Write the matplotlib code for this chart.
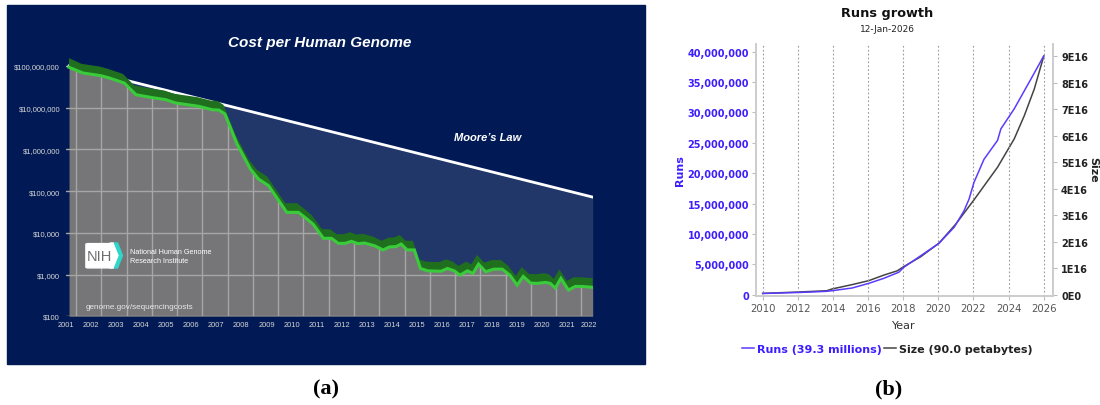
"""Sequencing cost per genome next to archive growth (runs and stored size)."""

import matplotlib.pyplot as plt
import numpy as np
from matplotlib.patches import FancyBboxPatch, Polygon, Rectangle

W, H = 1100, 406

# cost per human genome (USD), NHGRI series
genome_years = [
    2001.12, 2001.67, 2002.39, 2002.72, 2003.31, 2003.77, 2004.36, 2004.95,
    2005.34, 2006.26, 2006.79, 2007.05, 2007.29, 2007.77, 2008.30, 2008.62,
    2009.02, 2009.74, 2010.20, 2010.46, 2010.79, 2011.19, 2011.51, 2011.78,
    2012.04, 2012.30, 2012.56, 2012.82, 2013.22, 2013.55, 2013.81, 2014.07,
    2014.27, 2014.50, 2014.79, 2015.03, 2015.32, 2015.84, 2016.10, 2016.37,
    2016.60, 2016.89, 2017.11, 2017.33, 2017.61, 2017.94, 2018.27, 2018.57,
    2018.86, 2019.10, 2019.39, 2019.65, 2019.98, 2020.17, 2020.37, 2020.59,
    2020.89, 2021.16, 2021.42, 2021.85,
]
genome_cost = [
    9.3e7, 6.8e7, 5.85e7, 5.15e7, 3.9e7, 2.05e7, 1.77e7, 1.56e7,
    1.3e7, 1.08e7, 8.95e6, 8.8e6, 7.1e6, 1.35e6, 3.4e5, 1.95e5,
    1.35e5, 3.1e4, 3.1e4, 2.35e4, 1.6e4, 7.4e3, 7.4e3, 5.6e3,
    5.6e3, 6.25e3, 5.5e3, 5.7e3, 4.9e3, 3.9e3, 4.6e3, 4.7e3,
    5.4e3, 3.9e3, 3.9e3, 1.4e3, 1.23e3, 1.2e3, 1.4e3, 1.23e3,
    970, 1.23e3, 1.07e3, 1.78e3, 1.17e3, 1.35e3, 1.35e3, 970,
    560, 905, 625, 615, 650, 615, 475, 810,
    425, 520, 520, 495,
]
# Moore's law reference line (straight on the log axis)
moore_years = [2001.12, 2021.85]
moore_cost = [1.0e8, 7.2e4]

cost_ticks = [1e2, 1e3, 1e4, 1e5, 1e6, 1e7, 1e8]
cost_labels = ["$100", "$1,000", "$10,000", "$100,000", "$1,000,000",
               "$10,000,000", "$100,000,000"]
genome_tick_labels = [str(y) for y in range(2001, 2023)]

# archive growth: runs (millions) and stored size (units of 1E16 bytes)
runs_years = [2010.0, 2011.0, 2012.0, 2013.0, 2013.66, 2014.0, 2015.09, 2016.04,
              2016.9, 2017.75, 2018.03, 2018.99, 2020.03, 2020.9, 2021.46,
              2021.75, 2022.03, 2022.6, 2023.37, 2023.56, 2024.32, 2025.27, 2026.0]
runs_millions = [0.2, 0.28, 0.36, 0.47, 0.56, 0.68, 1.1, 1.87,
                 2.7, 3.7, 4.5, 6.4, 8.45, 11.1, 13.8,
                 15.75, 18.5, 22.3, 25.4, 27.3, 30.6, 35.5, 39.3]
size_years = [2010.0, 2012.0, 2013.66, 2013.94, 2015.09, 2016.04, 2016.9, 2017.66,
              2018.03, 2018.99, 2020.03, 2021.0, 2022.03, 2023.37, 2024.32,
              2024.89, 2025.46, 2026.0]
size_e16 = [0.05, 0.1, 0.15, 0.215, 0.38, 0.53, 0.74, 0.9,
            1.06, 1.43, 1.94, 2.67, 3.58, 4.81, 5.88,
            6.75, 7.76, 9.0]

NAVY = "#011a55"
MID = "#213669"
GRAY = "#767678"
GRID = "#a6a6a6"
DARK_GREEN = "#1f6f1f"
BRIGHT_GREEN = "#3acb3a"
BLUE = "#3c1eff"
NARROW = ["Liberation Sans Narrow", "Liberation Sans"]


def fx(px):
    return px / W


def fy(py):
    return 1 - py / H


fig = plt.figure(figsize=(W / 100, H / 100), dpi=100)
fig.patches.append(Rectangle((fx(7), fy(365)), (645 - 7) / W, (365 - 6) / H,
                             transform=fig.transFigure, color=NAVY, zorder=-5))

# ---- (a) cost per genome ----
ax = fig.add_axes([fx(66), fy(317.3), (592.7 - 66) / W, (317.3 - 54.5) / H])
ax.set_facecolor(NAVY)
ax.set_yscale("log")
top = 10 ** 8.3
ax.set_xlim(2001.12, 2021.85)
ax.set_ylim(100, top)

x = np.array(genome_years)
y = np.array(genome_cost)
moore = 10 ** np.interp(x, moore_years, np.log10(moore_cost))

ax.fill_between(x, 100, y, color=GRAY, lw=0, zorder=1)
for v in cost_ticks:
    ax.axhline(v, color=GRID, lw=1, zorder=1.5)
for yr in range(2001, 2022):
    ax.axvline(yr + 0.4, color=GRID, lw=1, zorder=1.5)
ax.fill_between(x, y, np.maximum(moore, y), color=MID, lw=0, zorder=2)
ax.fill_between(x, np.maximum(moore, y), top, color=NAVY, lw=0, zorder=2)
ax.plot(moore_years, moore_cost, color="white", lw=2, zorder=2.5)

band_x = np.clip(x - 0.06, x[0], None)
band_x[-1] = x[-1]
ax.fill(np.concatenate([x, band_x[::-1]]),
        np.concatenate([y, (y * 10 ** 0.22)[::-1]]),
        color=DARK_GREEN, lw=0, zorder=3)
ax.plot(x, y, color=BRIGHT_GREEN, lw=2.2, zorder=4, solid_joinstyle="miter")

ax.set_yticks(cost_ticks)
ax.set_yticklabels(cost_labels)
ax.minorticks_off()
# year labels sit a touch tighter than the grid; the last one is pulled in to the edge
label_pos = [2001 + (yr - 2001) * 0.992 for yr in range(2001, 2022)] + [2021.7]
ax.set_xticks(label_pos)
ax.set_xticklabels(genome_tick_labels)
ax.tick_params(axis="y", length=0, pad=4.3, labelsize=5.5, colors="#d6d6d6")
ax.tick_params(axis="x", length=0, pad=3.5, labelsize=5.4, colors="#d6d6d6")
for lab in ax.get_xticklabels() + ax.get_yticklabels():
    lab.set_family(NARROW)
for s in ax.spines.values():
    s.set_visible(False)

fig.text(fx(320), fy(43), "Cost per Human Genome", color="white", fontsize=11,
         fontweight="bold", fontstyle="italic", family="Liberation Sans",
         ha="center", va="center")
fig.text(fx(488), fy(138), "Moore\u2019s Law", color="white", fontsize=8,
         fontweight="bold", fontstyle="italic", family="Liberation Sans",
         ha="center", va="center")

# NIH logo block
fig.patches.append(FancyBboxPatch((fx(87), fy(268.5)), (112 - 87) / W, (268.5 - 245) / H,
                                  boxstyle="round,pad=0.001,rounding_size=0.002",
                                  transform=fig.transFigure, color="white", zorder=5))
fig.patches.append(Polygon([(fx(110), fy(244)), (fx(113.5), fy(244)), (fx(118.5), fy(256.5)),
                            (fx(113.5), fy(269)), (fx(110), fy(269))],
                           transform=fig.transFigure, color="white", zorder=5))
fig.patches.append(Polygon([(fx(114.5), fy(244)), (fx(117.5), fy(244)), (fx(122.5), fy(256.5)),
                            (fx(117.5), fy(269)), (fx(114.5), fy(269)), (fx(119.5), fy(256.5))],
                           transform=fig.transFigure, color="#2fd6c9", zorder=5))
fig.text(fx(99.5), fy(257), "NIH", color="#6e6e70", fontsize=10.5,
         family="Liberation Sans", ha="center", va="center", zorder=6)
fig.text(fx(130), fy(257), "National Human Genome\nResearch Institute", color="white",
         fontsize=5.2, family="Liberation Sans", ha="left", va="center",
         linespacing=1.35, zorder=6)
fig.text(fx(86), fy(307.5), "genome.gov/sequencingcosts", color="#e8e8e8",
         fontsize=5.9, family="Liberation Sans", ha="left", va="center", zorder=6)

# ---- (b) runs growth ----
axb = fig.add_axes([fx(756), fy(297), (1052.7 - 756) / W, (297 - 45) / H])
axb.set_xlim(2009.62, 2026.51)
axb.set_ylim(-0.214e6, 41.27e6)
axs = axb.twinx()
axs.set_ylim(-0.049e16, 9.46e16)

for yr in range(2010, 2027, 2):
    axb.axvline(yr, color="#9a9a9a", lw=0.8, ls=(0, (1.5, 2)), zorder=0)

runs_line, = axb.plot(runs_years, np.array(runs_millions) * 1e6, color="#5a3cff", lw=1.1, zorder=3)
size_line, = axs.plot(size_years, np.array(size_e16) * 1e16, color="#444444", lw=1.1, zorder=2)
axb.set_zorder(axs.get_zorder() + 1)
axb.patch.set_visible(False)

axb.set_xticks(range(2010, 2027, 2))
run_ticks = np.arange(0, 40_000_001, 5_000_000)
axb.set_yticks(run_ticks)
axb.set_yticklabels([f"{v:,}" for v in run_ticks])
axs.set_yticks(np.arange(0, 10) * 1e16)
axs.set_yticklabels(["0E0"] + [f"{i}E16" for i in range(1, 10)])

axb.tick_params(axis="x", length=3, color="#bbbbbb", labelsize=7.3, labelcolor="#555555", pad=2)
axb.tick_params(axis="y", length=3, color="#bbbbbb", labelsize=7, labelcolor=BLUE, pad=2)
axs.tick_params(axis="y", length=3, color="#bbbbbb", labelsize=7, labelcolor="#222222", pad=3)
for lab in axb.get_yticklabels() + axs.get_yticklabels():
    lab.set_fontweight("bold")

for a in (axb, axs):
    for side, s in a.spines.items():
        s.set_color("#cccccc")
        s.set_linewidth(1.4)
    a.spines["top"].set_visible(False)
axs.spines["left"].set_visible(False)
axs.spines["bottom"].set_visible(False)
axb.spines["right"].set_visible(False)

fig.text(fx(887), fy(13.5), "Runs growth", fontsize=9.3, fontweight="bold",
         color="#111111", ha="center", va="center")
fig.text(fx(887), fy(30), "12-Jan-2026", fontsize=6.5, color="#222222",
         ha="center", va="center")
fig.text(fx(680), fy(171), "Runs", rotation=90, fontsize=8, fontweight="bold",
         color=BLUE, ha="center", va="center")
fig.text(fx(1093), fy(170), "Size", rotation=-90, fontsize=8, fontweight="bold",
         color="#222222", ha="center", va="center")
fig.text(fx(904), fy(326), "Year", fontsize=8, color="#333333", ha="center", va="center")

fig.legend([runs_line, size_line],
           [f"Runs ({runs_millions[-1]:.1f} millions)",
            f"Size ({size_e16[-1] * 10:.1f} petabytes)"],
           loc="center", bbox_to_anchor=(fx(887), fy(350)), ncol=2, frameon=False,
           handlelength=1.1, handletextpad=0.25, columnspacing=0.2,
           prop={"weight": "bold", "size": 8}, labelcolor=[BLUE, "#222222"])

fig.text(fx(326), fy(389), "(a)", fontsize=16, fontweight="bold",
         family="Liberation Serif", ha="center", va="center")
fig.text(fx(889), fy(389), "(b)", fontsize=16, fontweight="bold",
         family="Liberation Serif", ha="center", va="center")

fig.savefig("out.png", dpi=100)
